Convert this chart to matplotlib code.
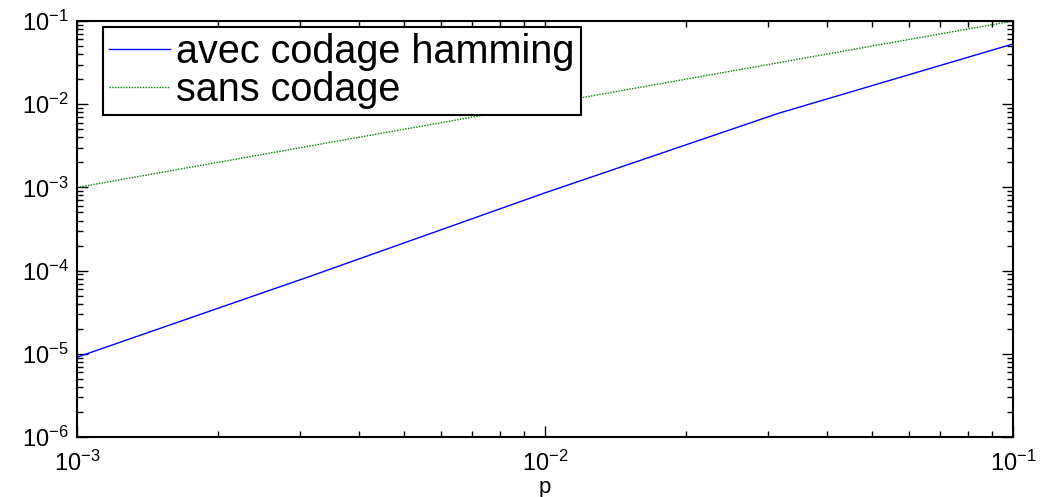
import matplotlib
matplotlib.use("Agg")
import matplotlib.pyplot as plt
from matplotlib.ticker import LogLocator, NullFormatter, FuncFormatter
import numpy as np

plt.rcParams['font.family'] = ['Liberation Sans', 'DejaVu Sans']
plt.rcParams['mathtext.fontset'] = 'custom'
plt.rcParams['mathtext.rm'] = 'Liberation Sans'
plt.rcParams['mathtext.it'] = 'Liberation Sans'
plt.rcParams['mathtext.default'] = 'regular'
plt.rcParams['axes.unicode_minus'] = False

# Data
p = [1e-3, 3.16e-3, 1e-2, 3.16e-2, 1e-1]
avec_hamming = [9.1e-6, 8.6e-5, 8.6e-4, 7.8e-3, 5.3e-2]
sans_codage = [1e-3, 3.16e-3, 1e-2, 3.16e-2, 1e-1]
labels = ["avec codage hamming", "sans codage"]


def pow10(v, pos):
    e = int(round(np.log10(v)))
    return "10$^{\\mathrm{%d}}$" % e


fig = plt.figure(figsize=(10.47, 4.97), dpi=100)
ax = fig.add_axes([0.0735, 0.1207, 0.894, 0.837])

ax.loglog(p, avec_hamming, color="#0000ff", lw=1.0, label=labels[0])
ax.loglog(p, sans_codage, color="#008000", lw=1.0, linestyle=(0, (1, 1)), label=labels[1])

ax.set_xlim(1e-3, 1e-1)
ax.set_ylim(1e-6, 1e-1)
ax.xaxis.set_major_locator(LogLocator(base=10, numticks=10))
ax.yaxis.set_major_locator(LogLocator(base=10, numticks=10))
ax.xaxis.set_minor_locator(LogLocator(base=10, subs=range(2, 10), numticks=20))
ax.yaxis.set_minor_locator(LogLocator(base=10, subs=range(2, 10), numticks=20))
ax.xaxis.set_major_formatter(FuncFormatter(pow10))
ax.yaxis.set_major_formatter(FuncFormatter(pow10))
ax.xaxis.set_minor_formatter(NullFormatter())
ax.yaxis.set_minor_formatter(NullFormatter())

ax.tick_params(which="both", direction="in", top=True, right=True, labelsize=17, width=1.0)
ax.tick_params(which="major", length=8)
ax.tick_params(axis="x", which="major", pad=10)
ax.tick_params(axis="y", which="major", pad=6)
ax.tick_params(which="minor", length=4)
for s in ax.spines.values():
    s.set_linewidth(1.5)

ax.set_xlabel("p", fontsize=16)
ax.xaxis.set_label_coords(0.5, -0.096)

leg = ax.legend(loc="upper left", bbox_to_anchor=(0.028, 0.986), borderaxespad=0,
                fontsize=28.5, fancybox=False, edgecolor="black", framealpha=1,
                handlelength=1.55, handletextpad=0.15, borderpad=0.15, labelspacing=0.0)
leg.get_frame().set_linewidth(1.5)

fig.savefig("out.png", dpi=100)
